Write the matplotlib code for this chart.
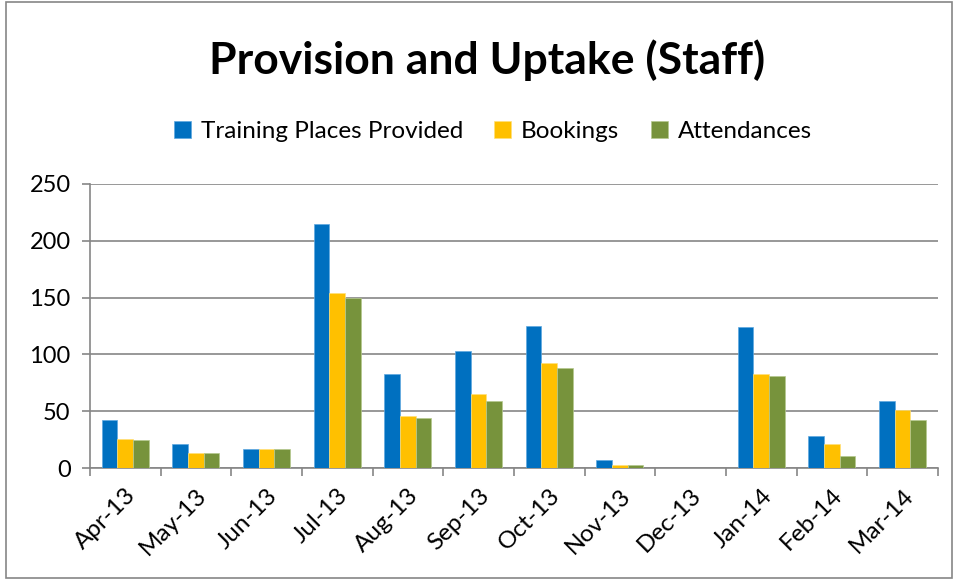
import numpy as np
import matplotlib
matplotlib.use("Agg")
import matplotlib.pyplot as plt
from matplotlib.patches import Rectangle

plt.rcParams['font.family'] = ['Lato', 'DejaVu Sans']

# 월별 데이터
months = ["Apr-13", "May-13", "Jun-13", "Jul-13", "Aug-13", "Sep-13",
          "Oct-13", "Nov-13", "Dec-13", "Jan-14", "Feb-14", "Mar-14"]
places = [42, 21, 17, 215, 83, 103, 125, 7, 0, 124, 28, 59]
bookings = [26, 13, 17, 154, 46, 65, 92, 3, 0, 83, 21, 51]
attendances = [25, 13, 17, 150, 44, 59, 88, 3, 0, 81, 11, 42]

fig = plt.figure(figsize=(9.57, 5.80), dpi=100)
ax = fig.add_axes([0.094, 0.193, 0.886, 0.490])

# 바깥 테두리
fig.patches.append(Rectangle((0.006, 0.003), 0.989, 0.994, transform=fig.transFigure,
                             fill=False, edgecolor="#868686", linewidth=1.2))

x = np.arange(len(months))
w = 0.222
ax.bar(x - w, places, w, color="#0070C0", edgecolor="#5FA8E0", linewidth=0.5,
       label="Training Places Provided", zorder=3)
ax.bar(x, bookings, w, color="#FFC000", edgecolor="#FFE07A", linewidth=0.5,
       label="Bookings", zorder=3)
ax.bar(x + w, attendances, w, color="#77933C", edgecolor="#B5C98E", linewidth=0.5,
       label="Attendances", zorder=3)

ax.set_xlim(-0.5, len(months) - 0.5)
ax.set_ylim(0, 250)
ax.set_yticks(range(0, 251, 50))
ax.yaxis.grid(True, color="#868686", linewidth=1.2, zorder=0)

ax.set_xticks(x)
ax.set_xticklabels(months, rotation=45, ha="right", rotation_mode="anchor", fontsize=17.5)
ax.set_xticks(np.arange(-0.5, len(months), 1), minor=True)
ax.tick_params(axis="x", which="major", length=0, pad=12)
ax.tick_params(axis="x", which="minor", length=6, width=1.2, color="#868686", direction="out")
ax.tick_params(axis="y", length=6, width=1.2, color="#868686", labelsize=17, pad=8)

for s in ["top", "right"]:
    ax.spines[s].set_visible(False)
for s in ["left", "bottom"]:
    ax.spines[s].set_color("#868686")
    ax.spines[s].set_linewidth(1.2)

fig.text(0.509, 0.897, "Provision and Uptake (Staff)", ha="center", va="center",
         fontsize=32, fontweight="bold")

fig.legend(loc="center", bbox_to_anchor=(0.515, 0.773), ncol=3, frameon=False,
           fontsize=17.5, handlelength=0.7, handleheight=0.7, handletextpad=0.4,
           columnspacing=1.3)

fig.savefig("out.png", dpi=100)
